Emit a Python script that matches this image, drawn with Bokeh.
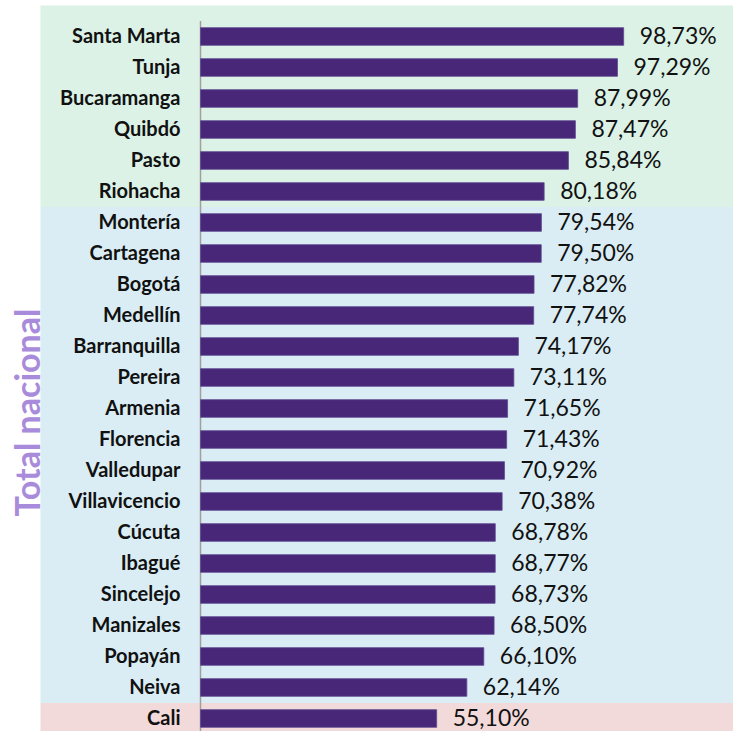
import numpy as np
from bokeh.plotting import figure
from bokeh.models import Range1d, ColumnDataSource
from bokeh.core.properties import value
from bokeh.embed import file_html
from bokeh.resources import INLINE

cities = ["Santa Marta", "Tunja", "Bucaramanga", "Quibdó", "Pasto", "Riohacha",
          "Montería", "Cartagena", "Bogotá", "Medellín", "Barranquilla", "Pereira",
          "Armenia", "Florencia", "Valledupar", "Villavicencio", "Cúcuta", "Ibagué",
          "Sincelejo", "Manizales", "Popayán", "Neiva", "Cali"]
values = [98.73, 97.29, 87.99, 87.47, 85.84, 80.18,
          79.54, 79.50, 77.82, 77.74, 74.17, 73.11,
          71.65, 71.43, 70.92, 70.38, 68.78, 68.77,
          68.73, 68.50, 66.10, 62.14, 55.10]
group_sizes = [6, 16, 1]
group_colors = ["#DCF2E6", "#DAEDF4", "#F2DADA"]
side_label = "Total nacional"

W, H = 733, 731
px_per_unit = 4.286
x0_px = 200
row_px = 31
row0_px = 36

x_start = -x0_px / px_per_unit
x_end = (W - x0_px) / px_per_unit
y_top = -row0_px / row_px
y_bottom = (H - row0_px) / row_px

p = figure(width=W, height=H, output_backend="svg", toolbar_location=None,
           x_range=Range1d(x_start, x_end), y_range=Range1d(y_bottom, y_top),
           min_border=0, min_border_left=0, min_border_right=0,
           min_border_top=0, min_border_bottom=0)
p.outline_line_color = None
p.background_fill_color = "white"
p.border_fill_color = "white"
p.axis.visible = False
p.grid.visible = False

# background bands
band_left = (40 - x0_px) / px_per_unit
edges = np.concatenate([[0], np.cumsum(group_sizes)]) - 0.5
tops = list(edges[:-1])
bottoms = list(edges[1:])
tops[0] = (5 - row0_px) / row_px
bottoms[-1] = y_bottom + 1
p.quad(left=band_left, right=x_end + 5, top=tops, bottom=bottoms,
       fill_color=group_colors, line_color=None)

ys = list(range(len(cities)))
src = ColumnDataSource(dict(y=ys, v=values, city=cities,
                            lab=[f"{v:.2f}".replace(".", ",") + "%" for v in values]))

# axis line
p.segment(x0=0, x1=0, y0=-0.5, y1=y_bottom + 1, line_color="#A0A0A0", line_width=1.5)

p.hbar(y="y", right="v", left=0, height=0.57, source=src,
       fill_color="#482778", line_color="#5E4A90", line_width=0.8)

p.text(x="v", y="y", text="lab", source=src, x_offset=16, y_offset=-2,
       text_font=value("Lato"), text_font_size="23px", text_color="#111111",
       text_align="left", text_baseline="middle")

p.text(x=-20 / px_per_unit, y="y", text="city", source=src, y_offset=-2,
       text_font=value("Lato"), text_font_size="20px", text_font_style="bold",
       text_color="#111111", text_align="right", text_baseline="middle")

p.text(x=[(26 - x0_px) / px_per_unit], y=[(412 - row0_px) / row_px], text=[side_label],
       angle=np.pi / 2, text_font=value("Lato"), text_font_size="34px",
       text_font_style="bold", text_color="#A98BDB",
       text_align="center", text_baseline="middle")

open("out.html", "w").write(file_html(p, INLINE))
